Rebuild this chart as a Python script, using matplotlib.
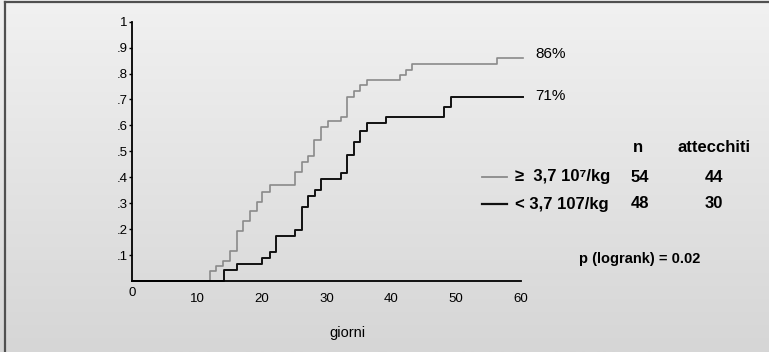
import numpy as np
import matplotlib.pyplot as plt
from matplotlib.lines import Line2D

plt.rcParams['font.family'] = ['Liberation Sans', 'DejaVu Sans']

# curve di attecchimento (giorni, frazione cumulativa)
alta_giorni = [0, 12.05, 13.0, 14.06, 15.1, 16.1, 17.1, 18.2, 19.2, 20.1, 21.3, 25.2, 26.2,
               27.1, 28.1, 29.2, 30.2, 32.2, 33.2, 34.2, 35.2, 36.3, 41.3, 42.3, 43.2, 56.3, 60.3]
alta_val = [0, .038, .059, .077, .117, .193, .23, .269, .306, .343, .369, .42, .46,
            .483, .542, .595, .618, .634, .711, .734, .754, .775, .793, .814, .838, .859, .859]

bassa_giorni = [0, 14.2, 16.1, 20.1, 21.3, 22.2, 25.2, 26.2, 27.1, 28.2, 29.2, 32.3, 33.2,
                34.2, 35.1, 36.2, 39.2, 48.2, 49.2, 60.3]
bassa_val = [0, .044, .066, .087, .11, .175, .197, .284, .329, .35, .393, .415, .487,
             .536, .58, .608, .634, .672, .711, .711]

x_ticks = [0, 10, 20, 30, 40, 50, 60]
y_ticks = [.1, .2, .3, .4, .5, .6, .7, .8, .9, 1]
y_labels = ['.1', '.2', '.3', '.4', '.5', '.6', '.7', '.8', '.9', '1']

gruppi = ['\u2265  3,7 10\u2077/kg', '< 3,7 107/kg']
n_paz = [54, 48]
attecchiti = [44, 30]
finali = ['86%', '71%']

W, H = 769, 352
fig = plt.figure(figsize=(W / 100, H / 100), dpi=100)

# sfondo sfumato
bg = fig.add_axes([0, 0, 1, 1], zorder=-10)
grad = np.linspace(0, 1, 256).reshape(-1, 1)
bg.imshow(grad, aspect='auto', cmap=plt.matplotlib.colors.LinearSegmentedColormap.from_list(
    'bg', ['#f1f1f1', '#d6d6d6']), extent=[0, 1, 0, 1], origin='upper')
bg.set_xlim(0, 1)
bg.set_ylim(0, 1)
bg.axis('off')

# bordo sopra e a sinistra
fig.add_artist(Line2D([4.5 / W, 1], [1 - 1.7 / H, 1 - 1.7 / H], color='#505050', lw=1.6))
fig.add_artist(Line2D([4.5 / W, 4.5 / W], [0, 1 - 1.7 / H], color='#505050', lw=1.6))

x0, x60 = 132.3, 520.7
px_day = (x60 - x0) / 60
y0, y1 = 281, 21.7
xmax = 60.5
ax = fig.add_axes([x0 / W, (H - y0) / H, xmax * px_day / W, (y0 - y1) / H])
ax.patch.set_alpha(0)
ax.set_xlim(0, xmax)
ax.set_ylim(0, 1)

ax.step(alta_giorni, alta_val, where='post', color='#8a8a8a', lw=1.2, clip_on=False)
ax.step(bassa_giorni, bassa_val, where='post', color='#111111', lw=1.4, clip_on=False)

for s in ['top', 'right']:
    ax.spines[s].set_visible(False)
ax.spines['left'].set_linewidth(1.3)
ax.spines['bottom'].set_linewidth(1.3)
ax.spines['bottom'].set_bounds(0, 60)
ax.spines['left'].set_zorder(3)
ax.spines['bottom'].set_zorder(3)

tfs = 9.5
ax.set_yticks(y_ticks)
ax.set_yticklabels(y_labels, fontsize=tfs)
ax.tick_params(axis='y', length=2, width=1, pad=1.5)
ax.set_xticks(x_ticks)
ax.set_xticklabels(['' if t == 0 else str(t) for t in x_ticks], fontsize=tfs)
ax.tick_params(axis='x', length=0, pad=9)
ax.text(0, -0.024, '0', transform=ax.get_xaxis_transform(), ha='center', va='top', fontsize=tfs)

fig.text(347 / W, 1 - 333 / H, 'giorni', ha='center', va='center', fontsize=10.5)

# percentuali finali
fig.text(535 / W, 1 - 54 / H, finali[0], ha='left', va='center', fontsize=11)
fig.text(535 / W, 1 - 96 / H, finali[1], ha='left', va='center', fontsize=11)

# legenda
fs = 12
fig.text(638 / W, 1 - 147 / H, 'n', ha='center', va='center', fontsize=fs, weight='bold')
fig.text(714 / W, 1 - 147 / H, 'attecchiti', ha='center', va='center', fontsize=fs, weight='bold')
righe_y = [177, 204]
colori = ['#8a8a8a', '#111111']
for i in range(2):
    yy = 1 - righe_y[i] / H
    fig.add_artist(Line2D([482 / W, 507 / W], [yy, yy], color=colori[i], lw=1.3 if i == 0 else 1.6))
    fig.text(515 / W, yy, gruppi[i], ha='left', va='center', fontsize=fs, weight='bold')
    fig.text(640 / W, yy, str(n_paz[i]), ha='center', va='center', fontsize=fs, weight='bold')
    fig.text(714 / W, yy, str(attecchiti[i]), ha='center', va='center', fontsize=fs, weight='bold')
fig.text(640 / W, 1 - 259 / H, 'p (logrank) = 0.02', ha='center', va='center', fontsize=10.5, weight='bold')

fig.savefig('out.png', dpi=100)
